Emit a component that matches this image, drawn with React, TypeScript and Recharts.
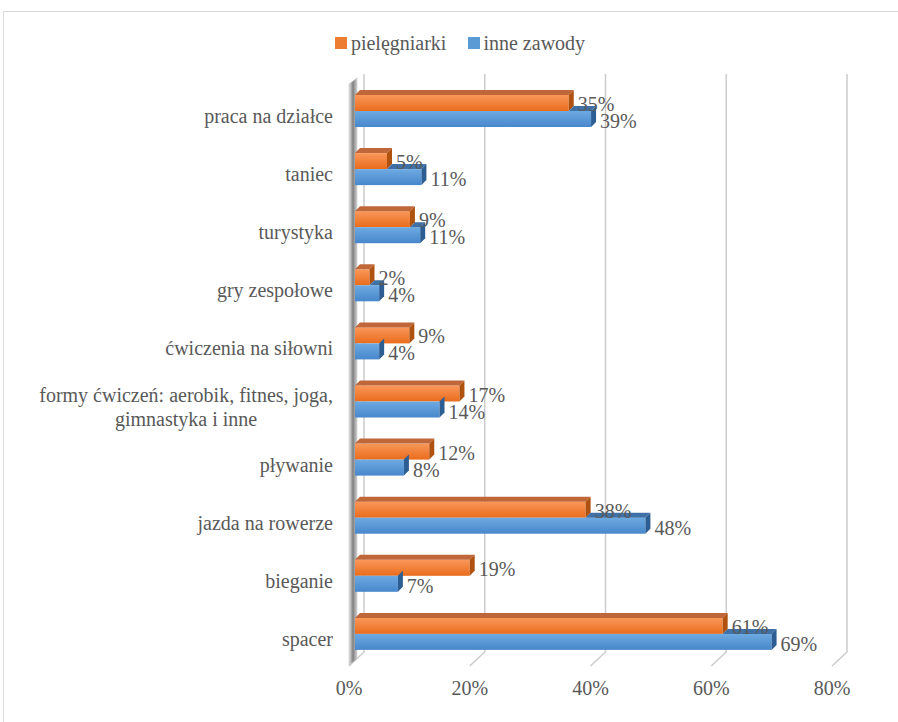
import React from "react";
import { BarChart, Bar, XAxis, YAxis, CartesianGrid, Legend, LabelList } from "recharts";

const categories = [
  "praca na działce",
  "taniec",
  "turystyka",
  "gry zespołowe",
  "ćwiczenia na siłowni",
  "formy ćwiczeń: aerobik, fitnes, joga,\ngimnastyka i inne",
  "pływanie",
  "jazda na rowerze",
  "bieganie",
  "spacer",
];
const nurses = [0.354, 0.053, 0.091, 0.024, 0.09, 0.173, 0.123, 0.382, 0.19, 0.609];
const others = [0.391, 0.11, 0.108, 0.04, 0.04, 0.14, 0.081, 0.481, 0.071, 0.69];
const seriesNames = ["pielęgniarki", "inne zawody"];
const xTicks = [0, 0.2, 0.4, 0.6, 0.8];

const data = categories.map((c, i) => ({ name: c, nurses: nurses[i], others: others[i] }));

const FONT = "'Liberation Serif', 'Times New Roman', serif";
const TXT = "#595959";
const D = 5;

let canvasCtx: CanvasRenderingContext2D | null = null;
const measure = (s: string, size: number) => {
  if (!canvasCtx) {
    const c = document.createElement("canvas");
    canvasCtx = c.getContext("2d");
  }
  if (!canvasCtx) return s.length * size * 0.45;
  canvasCtx.font = `${size}px 'Liberation Serif'`;
  return canvasCtx.measureText(s).width;
};

const OrangeBar = (p: any) => {
  const { x, y, width: w, height: h } = p;
  if (!w || w <= 0) return null;
  return (
    <g>
      <rect x={x} y={y} width={w} height={h} fill="url(#gOrange)" />
      <polygon points={`${x},${y} ${x + D},${y - D} ${x + w + D},${y - D} ${x + w},${y}`} fill="#c0673a" />
      <polygon points={`${x + w},${y} ${x + w + D},${y - D} ${x + w + D},${y + h - D} ${x + w},${y + h}`} fill="#b0520f" />
    </g>
  );
};

const BlueBar = (p: any) => {
  const { x, y, width: w, height: h, payload } = p;
  if (!w || w <= 0) return null;
  const ow = payload && payload.others > 0 ? (w * payload.nurses) / payload.others : 0;
  const top = ow < w ? (
    <polygon points={`${x + ow},${y} ${x + ow + D},${y - D} ${x + w + D},${y - D} ${x + w},${y}`} fill="#3f70a6" />
  ) : null;
  return (
    <g>
      <rect x={x} y={y} width={w} height={h} fill="url(#gBlue)" />
      {top}
      <polygon points={`${x + w},${y} ${x + w + D},${y - D} ${x + w + D},${y + h - D} ${x + w},${y + h}`} fill="#2c5d93" />
    </g>
  );
};

const pct = (v: number) => `${Math.round(v * 100)}%`;

const makeLabel = (dy: number) => (p: any) => {
  const { x, y, width, height, value } = p;
  return (
    <text x={x + width + 9} y={y + height / 2 + dy} fill={TXT} fontSize={20} fontFamily={FONT} dominantBaseline="central">
      {pct(value)}
    </text>
  );
};

const YTick = (p: any) => {
  const { x, y, payload } = p;
  const lines = String(payload.value).split("\n");
  const tx = x - 22;
  const cy = y + 5;
  if (lines.length === 1) {
    return (
      <text x={tx} y={cy} textAnchor="end" dominantBaseline="central" fill={TXT} fontSize={20} fontFamily={FONT}>
        {lines[0]}
      </text>
    );
  }
  const w0 = measure(lines[0], 20);
  const cx = tx - w0 / 2;
  return (
    <text textAnchor="middle" fill={TXT} fontSize={20} fontFamily={FONT} dominantBaseline="central">
      {lines.map((l, i) => (
        <tspan key={i} x={cx} y={cy - 12 + i * 24}>{l}</tspan>
      ))}
    </text>
  );
};

const XTick = (p: any) => {
  const { x, y, payload } = p;
  return (
    <text x={x - 6} y={y + 25} textAnchor="middle" dominantBaseline="central" fill={TXT} fontSize={20} fontFamily={FONT}>
      {pct(payload.value)}
    </text>
  );
};

const GridLine = (p: any) => {
  const { x1, y1, y2, index, key } = p;
  const bx = x1 + 9;
  if (index === 0 || Math.abs(x1 - 355) < 1) {
    return (
      <g key={key ?? `g${index}`}>
        <polyline points={`${bx},${y1 - 8} ${bx},${y2 - 11} ${x1 - 6},${y2 + 3}`} fill="none" stroke="#cccccc" strokeWidth={1.5} />
        <polygon points={`${x1 - 6},${y1 + 2} ${x1 + 2},${y1 - 4} ${x1 + 2},${y2 - 4} ${x1 - 6},${y2 + 2}`} fill="url(#gWall)" stroke="#bdbdbd" strokeWidth={0.5} />
      </g>
    );
  }
  return (
    <polyline key={key ?? `g${index}`} points={`${bx},${y1 - 8} ${bx},${y2 - 11} ${x1 - 6},${y2 + 3}`} fill="none" stroke="#cccccc" strokeWidth={1.5} />
  );
};

const LegendContent = () => (
  <div style={{ display: "flex", justifyContent: "center", alignItems: "center", height: 24, fontFamily: FONT, fontSize: 20, color: TXT, paddingLeft: 22 }}>
    <span style={{ display: "inline-block", width: 12, height: 12, background: "#ED7D31", marginRight: 4 }} />
    <span style={{ marginRight: 22 }}>{seriesNames[0]}</span>
    <span style={{ display: "inline-block", width: 12, height: 12, background: "#5B9BD5", marginRight: 3 }} />
    <span>{seriesNames[1]}</span>
  </div>
);

export default function App() {
  return (
    <div style={{ position: "absolute", left: 0, top: 0, width: 898, height: 722, overflow: "hidden", background: "#fff" }}>
      <div style={{ position: "absolute", left: 3, top: 11, width: 920, height: 740, border: "1px solid #d9d9d9", boxSizing: "border-box" }} />
      <div style={{ position: "absolute", left: 0, top: 0 }}>
        <BarChart
          width={898}
          height={722}
          data={data}
          layout="vertical"
          margin={{ top: 58, right: 60, bottom: 29, left: 0 }}
          barGap={0}
        >
          <defs>
            <linearGradient id="gOrange" x1="0" y1="0" x2="0" y2="1">
              <stop offset="0" stopColor="#f9975a" />
              <stop offset="1" stopColor="#ea6c1c" />
            </linearGradient>
            <linearGradient id="gBlue" x1="0" y1="0" x2="0" y2="1">
              <stop offset="0" stopColor="#6eaae2" />
              <stop offset="1" stopColor="#4787cb" />
            </linearGradient>
            <linearGradient id="gWall" x1="0" y1="0" x2="1" y2="0">
              <stop offset="0" stopColor="#e6e6e6" />
              <stop offset="0.5" stopColor="#808080" />
              <stop offset="1" stopColor="#d0d0d0" />
            </linearGradient>
          </defs>
          <Legend verticalAlign="top" content={LegendContent} wrapperStyle={{ top: 31, left: 0, width: 898 }} />
          <CartesianGrid horizontal={false} vertical={GridLine} />
          <XAxis type="number" domain={[0, 0.8]} ticks={xTicks} axisLine={false} tickLine={false} tickSize={0} tickMargin={0} height={30} tick={XTick} interval={0} />
          <YAxis type="category" dataKey="name" width={355} axisLine={false} tickLine={false} tickSize={0} tickMargin={0} tick={YTick} interval={0} />
          <Bar dataKey="nurses" name={seriesNames[0]} fill="#ED7D31" barSize={16} shape={OrangeBar} isAnimationActive={false}>
            <LabelList dataKey="nurses" content={makeLabel(1)} />
          </Bar>
          <Bar dataKey="others" name={seriesNames[1]} fill="#5B9BD5" barSize={16} shape={BlueBar} isAnimationActive={false}>
            <LabelList dataKey="others" content={makeLabel(2)} />
          </Bar>
        </BarChart>
      </div>
    </div>
  );
}
